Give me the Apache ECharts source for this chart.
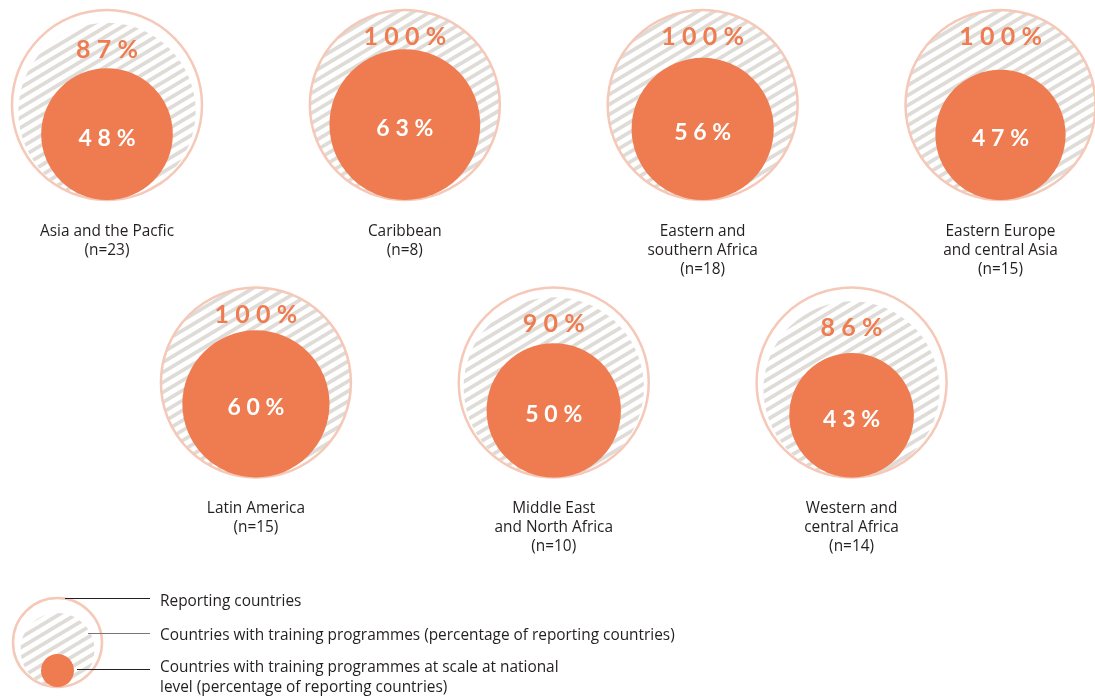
<!DOCTYPE html>
<html>
<head>
<meta charset="utf-8">
<script src="https://cdn.jsdelivr.net/npm/echarts@6/dist/echarts.min.js"></script>
<style>
  html, body { margin: 0; padding: 0; background: #fff; }
  #main { width: 1095px; height: 697px; }
</style>
</head>
<body>
<div id="main"></div>
<script>
// region names, number of reporting countries and the two percentages
var regions = ['Asia and the Pacfic', 'Caribbean', 'Eastern and\nsouthern Africa', 'Eastern Europe\nand central Asia',
  'Latin America', 'Middle East\nand North Africa', 'Western and\ncentral Africa'];
var reporting = [23, 8, 18, 15, 15, 10, 14];
var withTraining = [87, 100, 100, 100, 100, 90, 86];   // % of reporting countries
var atScale = [48, 63, 56, 47, 60, 50, 43];            // % of reporting countries
var legendTexts = ['Reporting countries',
  'Countries with training programmes (percentage of reporting countries)',
  'Countries with training programmes at scale at national\nlevel (percentage of reporting countries)'];

var ORANGE = '#ef7c50';
var RING = '#f6c8b8';
var TEXT = '#231f20';
var FONT = '"Open Sans", Lato, sans-serif';
var PCT_FONT = 'Lato, "Open Sans", sans-serif';
var R = 95; // radius of the "reporting countries" circle

// grey diagonal hatching, tile 50x10, slope 0.6
function makeStripes() {
  var cv = document.createElement('canvas');
  cv.width = 50; cv.height = 10;
  var ctx = cv.getContext('2d');
  ctx.fillStyle = '#fff';
  ctx.fillRect(0, 0, 50, 10);
  ctx.strokeStyle = '#dfdbd7';
  ctx.lineWidth = 3.7;
  for (var k = -2; k <= 7; k++) {
    var c = k * 10;
    ctx.beginPath();
    ctx.moveTo(-10, c + 6);
    ctx.lineTo(60, c - 36);
    ctx.stroke();
  }
  return { image: cv, repeat: 'repeat' };
}
var stripes = makeStripes();

// wide letter spacing of the percentage labels
function spaced(s) {
  return s.split('').join('\u2005');
}

// first row holds 4 bubbles, second row 3 bubbles shifted half a slot
var points = regions.map(function (name, i) {
  var slot = i < 4 ? i : i - 4 + 0.5;
  var row = i < 4 ? 0 : 1;
  return [slot, row, withTraining[i], atScale[i], i];
});

function renderItem(params, api) {
  var i = api.value(4);
  var c = api.coord([api.value(0), api.value(1)]);
  var bottom = c[1] + R;
  var rh = R * Math.sqrt(api.value(2) / 100);
  var ro = R * Math.sqrt(api.value(3) / 100);
  return {
    type: 'group',
    children: [
      { type: 'circle', shape: { cx: c[0], cy: c[1], r: R }, style: { fill: '#fff' } },
      { type: 'circle', shape: { cx: c[0], cy: bottom - rh, r: rh }, style: { fill: stripes } },
      { type: 'circle', shape: { cx: c[0], cy: c[1], r: R }, style: { fill: 'none', stroke: RING, lineWidth: 2.5 } },
      { type: 'circle', shape: { cx: c[0], cy: bottom - ro, r: ro }, style: { fill: ORANGE } },
      {
        type: 'text',
        style: {
          text: spaced(api.value(2) + '%'), x: c[0], y: bottom - 2 * rh + 27,
          fill: ORANGE, fontSize: 25, fontWeight: 'bold', fontFamily: PCT_FONT,
          align: 'center', verticalAlign: 'middle'
        }
      },
      {
        type: 'text',
        style: {
          text: spaced(api.value(3) + '%'), x: c[0], y: bottom - ro + 4,
          fill: '#fff', fontSize: 23, fontWeight: 'bold', fontFamily: PCT_FONT,
          align: 'center', verticalAlign: 'middle'
        }
      },
      {
        type: 'text',
        style: {
          text: regions[i] + '\n(n=' + reporting[i] + ')', x: c[0], y: bottom + 22,
          fill: TEXT, fontSize: 15.4, fontFamily: FONT, lineHeight: 19,
          align: 'center', verticalAlign: 'top'
        }
      }
    ]
  };
}

var chart = echarts.init(document.getElementById('main'));
chart.setOption({
  animation: false,
  grid: { left: 107, right: 94.5, top: 105, bottom: 314.5 },
  xAxis: { type: 'value', min: 0, max: 3, show: false },
  yAxis: { type: 'value', min: 0, max: 1, inverse: true, show: false },
  series: [{
    type: 'custom',
    renderItem: renderItem,
    data: points,
    silent: true
  }],
  graphic: {
    elements: [
      { type: 'circle', shape: { cx: 57.5, cy: 642.5, r: 44.5 }, style: { fill: '#fff' } },
      { type: 'circle', shape: { cx: 57.5, cy: 650, r: 37 }, style: { fill: stripes } },
      { type: 'circle', shape: { cx: 57.5, cy: 642.5, r: 44.5 }, style: { fill: 'none', stroke: RING, lineWidth: 2.5 } },
      { type: 'circle', shape: { cx: 57.5, cy: 670.5, r: 16.5 }, style: { fill: ORANGE } },
      { type: 'line', shape: { x1: 65, y1: 598.5, x2: 150, y2: 598.5 }, style: { stroke: '#222', lineWidth: 1 } },
      { type: 'line', shape: { x1: 88, y1: 633.5, x2: 150, y2: 633.5 }, style: { stroke: '#777', lineWidth: 1 } },
      { type: 'line', shape: { x1: 77, y1: 669.5, x2: 150, y2: 669.5 }, style: { stroke: '#222', lineWidth: 1 } },
      { type: 'text', style: { text: legendTexts[0], x: 160, y: 601.5, fill: TEXT, fontSize: 15.4, fontFamily: FONT, verticalAlign: 'middle' } },
      { type: 'text', style: { text: legendTexts[1], x: 160, y: 635.5, fill: TEXT, fontSize: 15.4, fontFamily: FONT, verticalAlign: 'middle' } },
      { type: 'text', style: { text: legendTexts[2], x: 160, y: 657.5, fill: TEXT, fontSize: 15.4, fontFamily: FONT, lineHeight: 20, verticalAlign: 'top' } }
    ]
  }
});
</script>
</body>
</html>
